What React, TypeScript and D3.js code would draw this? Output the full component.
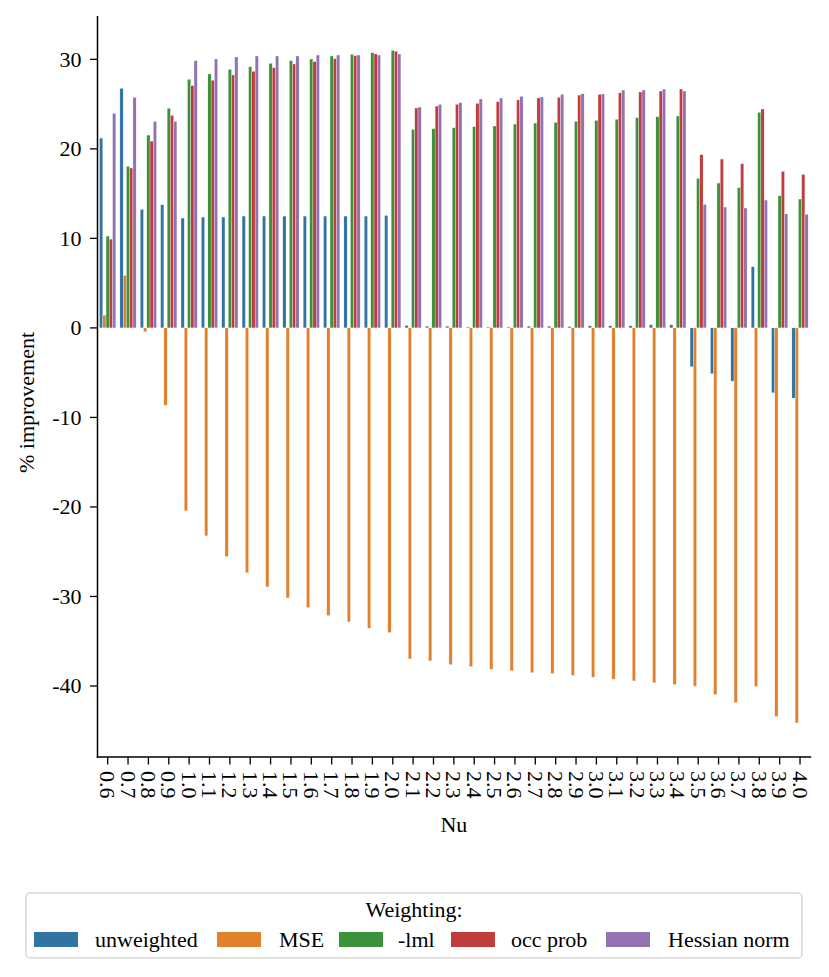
import React from "react";
import * as d3 from "d3";

const categories = ["0.6","0.7","0.8","0.9","1.0","1.1","1.2","1.3","1.4","1.5","1.6","1.7","1.8","1.9","2.0","2.1","2.2","2.3","2.4","2.5","2.6","2.7","2.8","2.9","3.0","3.1","3.2","3.3","3.4","3.5","3.6","3.7","3.8","3.9","4.0"];

const seriesNames = ["unweighted", "MSE", "-lml", "occ prob", "Hessian norm"];
const seriesColors = ["#3274a1", "#e1812c", "#3a923a", "#c03d3e", "#9372b2"];

const unweighted = [21.2, 26.76, 13.24, 13.76, 12.27, 12.38, 12.38, 12.49, 12.49, 12.49, 12.49, 12.49, 12.49, 12.49, 12.57, 0.27, 0.2, 0.2, 0.1, 0.1, 0.1, 0.2, 0.2, 0.15, 0.24, 0.24, 0.24, 0.35, 0.35, -4.34, -5.12, -5.94, 6.83, -7.25, -7.84];
const mse = [1.43, 5.86, -0.43, -8.63, -20.43, -23.23, -25.54, -27.36, -28.93, -30.16, -31.24, -32.13, -32.84, -33.55, -34.03, -36.98, -37.2, -37.61, -37.83, -38.13, -38.31, -38.5, -38.61, -38.83, -39.02, -39.24, -39.43, -39.62, -39.84, -40.03, -40.96, -41.85, -40.03, -43.41, -44.13];
const lml = [10.26, 18.05, 21.54, 24.53, 27.77, 28.36, 28.88, 29.18, 29.55, 29.85, 30.04, 30.37, 30.56, 30.74, 31.0, 22.18, 22.25, 22.36, 22.47, 22.55, 22.77, 22.88, 22.96, 23.07, 23.18, 23.3, 23.48, 23.59, 23.67, 16.7, 16.18, 15.66, 24.08, 14.76, 14.39];
const occProb = [9.92, 17.86, 20.87, 23.74, 27.06, 27.66, 28.25, 28.66, 29.07, 29.48, 29.74, 30.07, 30.41, 30.6, 30.9, 24.56, 24.78, 24.97, 25.08, 25.27, 25.46, 25.68, 25.76, 26.01, 26.09, 26.27, 26.35, 26.46, 26.68, 19.35, 18.86, 18.34, 24.45, 17.49, 17.15];
const hessian = [23.97, 25.76, 23.07, 23.07, 29.85, 30.04, 30.26, 30.37, 30.37, 30.37, 30.48, 30.48, 30.48, 30.48, 30.6, 24.67, 24.97, 25.15, 25.57, 25.68, 25.87, 25.79, 26.09, 26.16, 26.13, 26.57, 26.57, 26.68, 26.46, 13.8, 13.5, 13.39, 14.28, 12.75, 12.68];

const yTicks = [30, 20, 10, 0, -10, -20, -30, -40];

const allSeries = [unweighted, mse, lml, occProb, hessian];

const ts: React.CSSProperties = { fontFamily: '"Liberation Serif", monospace', fontSize: "22px" };

export default function App() {
  const W = 829, H = 977;
  const left = 97.5, right = 810.2, top = 16, bottom = 757;

  const x = d3.scaleBand<string>().domain(categories).range([left, right]).padding(0);
  const bw = x.bandwidth();
  const x1 = d3.scaleBand<string>().domain(seriesNames).range([0, bw * 0.8]).padding(0);
  const y = d3.scaleLinear().domain([-47.93, 34.84]).range([bottom, top]);

  const legendPatchX = [34, 217, 339, 451, 606];
  const legendTextX = [95, 279, 398, 511, 668];

  return (
    <svg width={W} height={H} style={{ position: "absolute", left: 0, top: 0, background: "#fff" }}>
      <rect x={0} y={0} width={W} height={H} fill="#fff" />
      {allSeries.map((vals, si) => (
        <g key={si} fill={seriesColors[si]}>
          {vals.map((v, ci) => {
            const cx = (x(categories[ci]) as number) + bw * 0.1 + (x1(seriesNames[si]) as number);
            const y0 = y(0), yv = y(v);
            return (
              <rect key={ci} x={cx} width={x1.bandwidth()} y={Math.min(y0, yv)} height={Math.abs(yv - y0)}
                stroke="#ffffff" strokeWidth={0.3} />
            );
          })}
        </g>
      ))}
      <line x1={left} x2={left} y1={top} y2={bottom + 0.75} stroke="#000" strokeWidth={1.5} />
      <line x1={left - 0.75} x2={right + 1} y1={bottom} y2={bottom} stroke="#000" strokeWidth={1.5} />
      {yTicks.map((t) => (
        <g key={t} transform={`translate(0,${y(t)})`}>
          <line x1={left - 7.5} x2={left} stroke="#000" strokeWidth={1.3} />
          <text style={ts} x={left - 16} dy="0.34em" textAnchor="end">{t < 0 ? `-${Math.abs(t)}` : `${t}`}</text>
        </g>
      ))}
      {categories.map((c) => {
        const cx = (x(c) as number) + bw / 2;
        return (
          <g key={c}>
            <line x1={cx} x2={cx} y1={bottom} y2={bottom + 7.5} stroke="#000" strokeWidth={1.3} />
            <text style={ts} transform={`translate(${cx},${bottom + 14}) rotate(90)`} dy="0.34em" textAnchor="start">{c}</text>
          </g>
        );
      })}
      <text style={ts} x={(left + right) / 2} y={832} textAnchor="middle">Nu</text>
      <text style={ts} transform={`translate(34,${(top + bottom) / 2 + 16}) rotate(-90)`} textAnchor="middle">% improvement</text>
      <rect x={26} y={893} width={776} height={65} rx={4} ry={4} fill="#fff" stroke="#d6d6d6" strokeWidth={1.5} />
      <text style={ts} x={414} y={917} textAnchor="middle">Weighting:</text>
      {seriesNames.map((n, i) => (
        <g key={n}>
          <rect x={legendPatchX[i]} y={932} width={44} height={15} fill={seriesColors[i]} />
          <text style={ts} x={legendTextX[i]} y={947}>{n}</text>
        </g>
      ))}
    </svg>
  );
}
